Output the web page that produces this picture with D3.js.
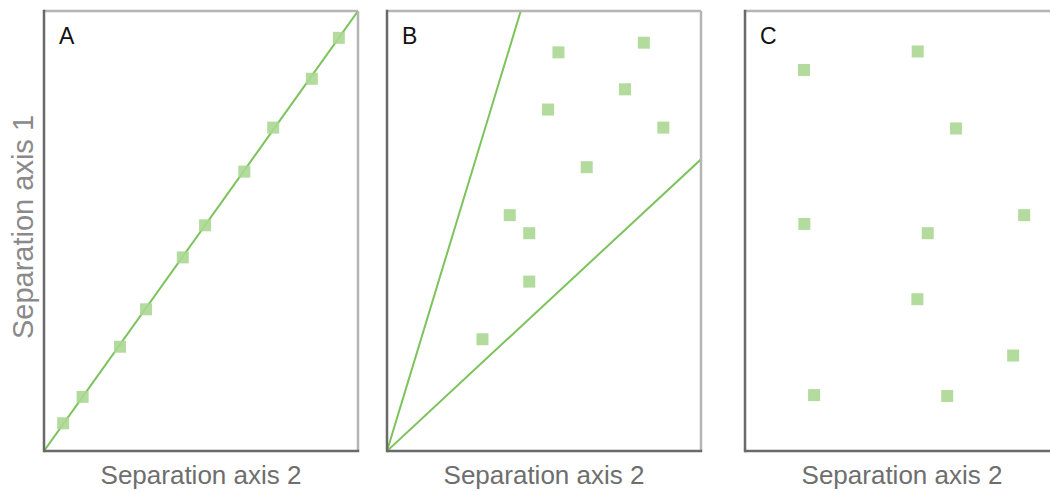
<!DOCTYPE html>
<html lang="en">
<head>
    <meta charset="UTF-8">
    <title>Separation axes</title>
    <script src="https://d3js.org/d3.v7.min.js"></script>
    <style>
        body { margin: 0; background: #fff; }
    </style>
</head>
<body>
    <div id="chart"></div>

    <script>
        // datos (escala 0-10 en ambos ejes)
        var panelLabels = ["A", "B", "C"];
        var xAxisTitle = "Separation axis 2";
        var yAxisTitle = "Separation axis 1";

        var aX = [0.61, 1.23, 2.42, 3.25, 4.42, 5.13, 6.38, 7.30, 8.53, 9.39];
        var aY = [0.63, 1.23, 2.37, 3.22, 4.40, 5.13, 6.35, 7.35, 8.46, 9.39];

        var bX = [5.46, 8.18, 7.58, 5.13, 8.80, 6.36, 3.91, 4.53, 4.53, 3.04];
        var bY = [9.06, 9.28, 8.22, 7.76, 7.35, 6.45, 5.36, 4.95, 3.85, 2.54];

        var cX = [1.88, 5.50, 6.72, 1.89, 5.82, 8.89, 5.49, 2.20, 6.44, 8.54];
        var cY = [8.66, 9.08, 7.33, 5.16, 4.95, 5.36, 3.45, 1.27, 1.25, 2.17];

        // lineas: pares de puntos [x, y]
        var aLines = [[[0, 0], [10, 10]]];
        var bLines = [[[0, 0], [4.26, 10]], [[0, 0], [10, 6.63]]];
        var cLines = [];

        var allX = [aX, bX, cX];
        var allY = [aY, bY, cY];
        var allLines = [aLines, bLines, cLines];

        var width = 1050;
        var height = 491;
        var panelLeft = [44, 387, 745];
        var panelW = 314;
        var panelTop = 11;
        var panelH = 440;

        var markColor = "#abd792";
        var lineColor = "#7cc35c";

        var svg = d3.select("#chart")
                    .append("svg")
                    .attr("width", width)
                    .attr("height", height);

        var xScale = d3.scaleLinear().domain([0, 10]).range([0, panelW]);
        var yScale = d3.scaleLinear().domain([0, 10]).range([panelH, 0]);

        var line = d3.line()
                     .x(function(d) { return xScale(d[0]); })
                     .y(function(d) { return yScale(d[1]); });

        panelLabels.forEach(function(label, i) {
            var g = svg.append("g")
                       .attr("transform", "translate(" + panelLeft[i] + "," + panelTop + ")");

            g.append("clipPath")
             .attr("id", "clip" + i)
             .append("rect")
             .attr("width", panelW)
             .attr("height", panelH);

            var pts = allX[i].map(function(x, j) { return [x, allY[i][j]]; });

            g.append("g")
             .attr("clip-path", "url(#clip" + i + ")")
             .selectAll("path")
             .data(allLines[i])
             .enter()
             .append("path")
             .attr("d", line)
             .attr("fill", "none")
             .attr("stroke", lineColor)
             .attr("stroke-width", 2);

            var s = 12;
            g.selectAll("rect.mark")
             .data(pts)
             .enter()
             .append("rect")
             .attr("class", "mark")
             .attr("x", function(d) { return xScale(d[0]) - s / 2; })
             .attr("y", function(d) { return yScale(d[1]) - s / 2; })
             .attr("width", s)
             .attr("height", s)
             .attr("fill", markColor)
             .attr("fill-opacity", 0.9);

            // marco: arriba y derecha claros, izquierda y abajo oscuros
            g.append("line")
             .attr("x1", 0).attr("y1", 0).attr("x2", panelW).attr("y2", 0)
             .attr("stroke", "#b5b5b5").attr("stroke-width", 2.5);
            g.append("line")
             .attr("x1", panelW).attr("y1", 0).attr("x2", panelW).attr("y2", panelH)
             .attr("stroke", "#b5b5b5").attr("stroke-width", 2.5);
            g.append("line")
             .attr("x1", 0).attr("y1", -1.2).attr("x2", 0).attr("y2", panelH + 1.2)
             .attr("stroke", "#6a6a6a").attr("stroke-width", 2.5);
            g.append("line")
             .attr("x1", 0).attr("y1", panelH).attr("x2", panelW + 1.2).attr("y2", panelH)
             .attr("stroke", "#6a6a6a").attr("stroke-width", 2.5);

            g.append("text")
             .attr("x", 15)
             .attr("y", 33)
             .attr("font-family", "Liberation Sans, Arial, sans-serif")
             .attr("font-size", "23px")
             .attr("fill", "#111")
             .text(label);

            g.append("text")
             .attr("x", panelW / 2)
             .attr("y", panelH + 33)
             .attr("text-anchor", "middle")
             .attr("font-family", "Liberation Sans, Arial, sans-serif")
             .attr("font-size", "26px")
             .attr("fill", "#6e6e6e")
             .text(xAxisTitle);
        });

        svg.append("text")
           .attr("transform", "translate(33," + 227 + ") rotate(-90)")
           .attr("text-anchor", "middle")
           .attr("font-family", "Liberation Sans, Arial, sans-serif")
           .attr("font-size", "29px")
           .attr("fill", "#8a8a8a")
           .text(yAxisTitle);
    </script>
</body>
</html>
